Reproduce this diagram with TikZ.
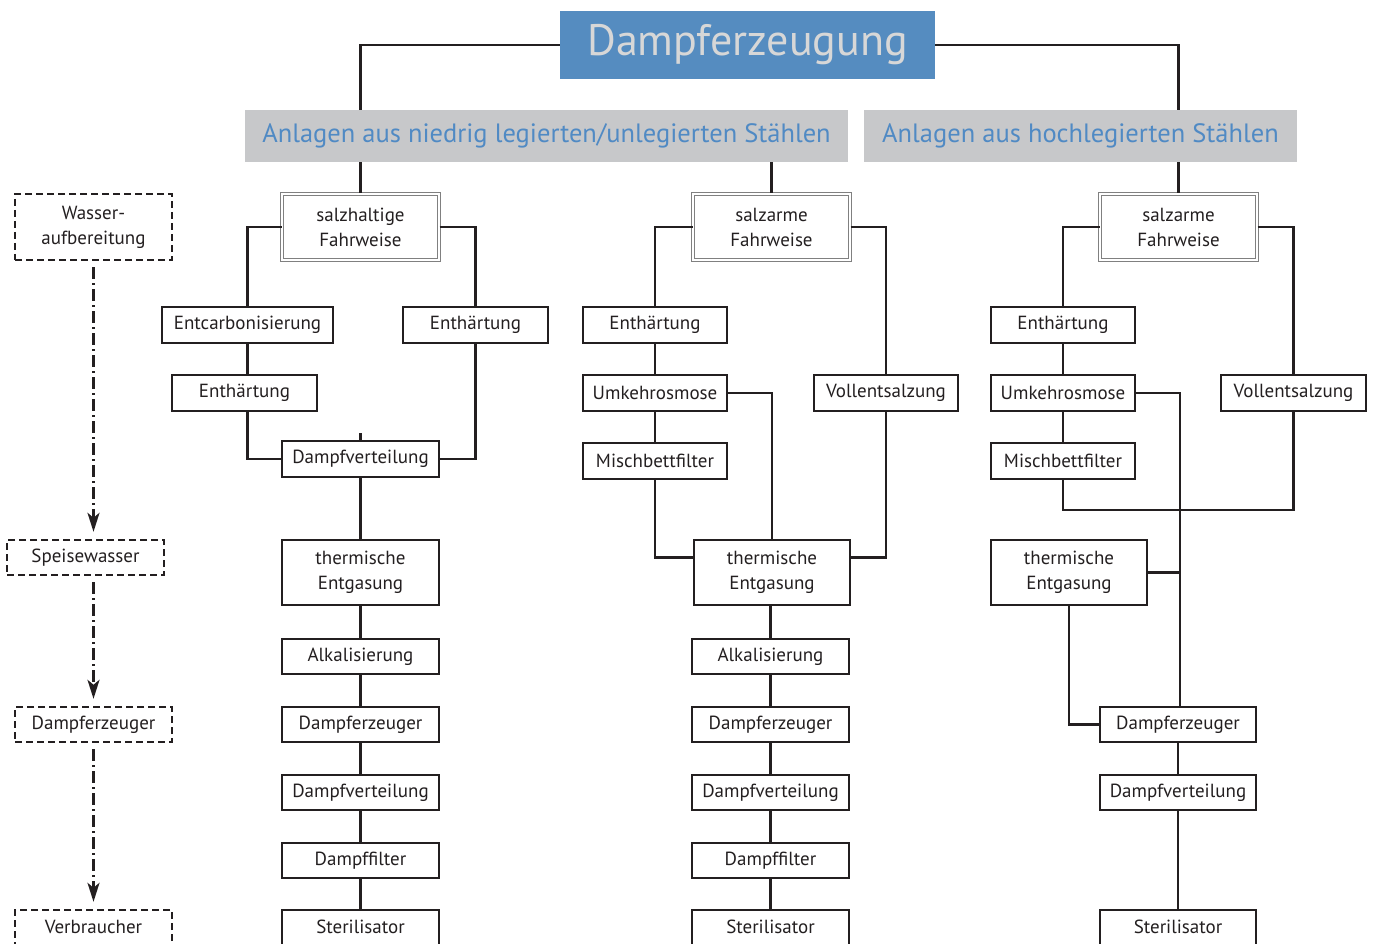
\documentclass[tikz,border=0pt]{standalone}
\usepackage{fontspec}
\setmainfont{PT Sans}
\usetikzlibrary{arrows.meta}
\definecolor{titleblue}{RGB}{85,140,192}
\definecolor{titletext}{RGB}{215,215,215}
\definecolor{hdrgray}{RGB}{199,200,202}
\definecolor{hdrtext}{RGB}{80,138,196}
\definecolor{ink}{RGB}{35,31,32}
\tikzset{
  bx/.style={draw=ink, text=ink, line width=2.6pt, minimum height=36pt, inner sep=0pt,
    align=center, font=\fontsize{19}{25}\selectfont},
  dbx/.style={bx, draw=gray, double=white, double distance=1.4pt, line width=1pt, minimum height=66pt},
  lbx/.style={bx, dash pattern=on 7pt off 4pt, line width=2.4pt},
  conn/.style={draw=ink, line width=2.5pt},
  dd/.style={draw=ink, line width=2.4pt, dash pattern=on 12pt off 4pt on 2pt off 4pt,
    -{Stealth[length=19pt,width=12pt,inset=5pt]}, shorten >=7pt, shorten <=6pt},
  hdr/.style={fill=hdrgray, text=hdrtext, minimum height=52pt, inner sep=0pt,
    font=\fontsize{26.5}{30}\selectfont},
  lbl/.style={text=ink, font=\fontsize{19}{25}\selectfont, anchor=base},
}
\begin{document}
\begin{tikzpicture}[x=1pt,y=-1pt]
\useasboundingbox (0,0) rectangle (1374,944);
\clip (0,0) rectangle (1374,944);
% title and headers
\node[fill=titleblue, text=titletext, minimum width=375pt, minimum height=68pt, inner sep=0pt,
  font=\fontsize{44}{48}\selectfont] (title) at (747.5,45) {Dampferzeugung};
\node[hdr, minimum width=603pt] (h1) at (546.5,136) {Anlagen aus niedrig legierten/unlegierten Stählen};
\node[hdr, minimum width=433pt] (h2) at (1080.5,136) {Anlagen aus hochlegierten Stählen};

% legend
\node[lbx, minimum width=157pt, minimum height=66pt] (wa) at (93.5,227) {Wasser-\\aufbereitung};
\node[lbx, minimum width=157pt, minimum height=35pt] (sp) at (85.5,557.5) {Speisewasser};
\node[lbx, minimum width=157pt, minimum height=35pt] (de) at (93.5,724.5) {Dampferzeuger};
\node[lbx, minimum width=157pt, minimum height=50pt] (vb) at (93.5,935) {};
\node[lbl] (vbt) at (93.5,933) {Verbraucher};
\draw[dd] (wa.south) -- (wa.south |- sp.north);
\draw[dd] (sp.south -| wa.south) -- (wa.south |- de.north);
\draw[dd] (de.south) -- (de.south |- vb.north);

% left column
\node[dbx, minimum width=157pt] (sh) at (360.5,227) {salzhaltige\\Fahrweise};
\node[bx, minimum width=171pt] (ec) at (247.5,325) {Entcarbonisierung};
\node[bx, minimum width=145pt] (ehr) at (475.5,325) {Enthärtung};
\node[bx, minimum width=145pt] (ehl) at (244.5,393) {Enthärtung};
\node[bx, minimum width=157pt] (dva) at (360.5,459) {Dampfverteilung};
\node[bx, minimum width=157pt, minimum height=65pt] (tea) at (360.5,572.5) {thermische\\Entgasung};
\node[bx, minimum width=157pt, minimum height=35pt] (ala) at (360.5,656.5) {Alkalisierung};
\node[bx, minimum width=157pt, minimum height=35pt] (dea) at (360.5,724.5) {Dampferzeuger};
\node[bx, minimum width=157pt, minimum height=35pt] (dvb) at (360.5,792.5) {Dampfverteilung};
\node[bx, minimum width=157pt, minimum height=35pt] (dfa) at (360.5,860.5) {Dampffilter};
\node[bx, minimum width=157pt, minimum height=50pt] (sta) at (360.5,935) {};
\node[lbl] (stat) at (360.5,933) {Sterilisator};

% middle column
\node[dbx, minimum width=157pt] (sm) at (771.5,227) {salzarme\\Fahrweise};
\node[bx, minimum width=144pt] (ehm) at (655,325) {Enthärtung};
\node[bx, minimum width=144pt] (umm) at (655,393) {Umkehrosmose};
\node[bx, minimum width=144pt] (mbm) at (655,461) {Mischbettfilter};
\node[bx, minimum width=144pt] (vsm) at (886,393) {Vollentsalzung};
\node[bx, minimum width=156pt, minimum height=65pt] (tem) at (772,572.5) {thermische\\Entgasung};
\node[bx, minimum width=157pt, minimum height=35pt] (alm) at (770.5,656.5) {Alkalisierung};
\node[bx, minimum width=157pt, minimum height=35pt] (dem) at (770.5,724.5) {Dampferzeuger};
\node[bx, minimum width=157pt, minimum height=35pt] (dvm) at (770.5,792.5) {Dampfverteilung};
\node[bx, minimum width=157pt, minimum height=35pt] (dfm) at (770.5,860.5) {Dampffilter};
\node[bx, minimum width=157pt, minimum height=50pt] (stm) at (770.5,935) {};
\node[lbl] (stmt) at (770.5,933) {Sterilisator};

% right column
\node[dbx, minimum width=157pt] (sr) at (1178.5,227) {salzarme\\Fahrweise};
\node[bx, minimum width=144pt] (ehr2) at (1063,325) {Enthärtung};
\node[bx, minimum width=144pt] (umr) at (1063,393) {Umkehrosmose};
\node[bx, minimum width=144pt] (mbr) at (1063,461) {Mischbettfilter};
\node[bx, minimum width=145pt] (vsr) at (1293.5,393) {Vollentsalzung};
\node[bx, minimum width=156pt, minimum height=65pt] (ter) at (1069,572.5) {thermische\\Entgasung};
\node[bx, minimum width=156pt, minimum height=35pt] (der) at (1178,724.5) {Dampferzeuger};
\node[bx, minimum width=156pt, minimum height=35pt] (dvr) at (1178,792.5) {Dampfverteilung};
\node[bx, minimum width=156pt, minimum height=50pt] (str) at (1178,935) {};
\node[lbl] (strt) at (1178,933) {Sterilisator};

% top connectors
\draw[conn] (title.west) -| (sh.north |- h1.north);
\draw[conn] (title.east) -| (sr.north |- h2.north);
\draw[conn] (h1.south -| sh.north) -- (sh.north);
\draw[conn] (h1.south -| sm.north) -- (sm.north);
\draw[conn] (h2.south -| sr.north) -- (sr.north);

% left column connectors
\draw[conn] (sh.west) -| (ec.north);
\draw[conn] (sh.east) -| (ehr.north);
\draw[conn] (ec.south) -- (ec.south |- ehl.north);
\draw[conn] (ehl.south -| ec.south) |- (dva.west);
\draw[conn] (ehr.south) |- (dva.east);
\draw[conn] (dva.north) -- ++(0,-7);
\draw[conn] (dva.south) -- (tea.north);
\draw[conn] (tea.south) -- (ala.north);
\draw[conn] (ala.south) -- (dea.north);
\draw[conn] (dea.south) -- (dvb.north);
\draw[conn] (dvb.south) -- (dfa.north);
\draw[conn] (dfa.south) -- (sta.north);

% middle column connectors
\draw[conn] (sm.west) -| (ehm.north);
\draw[conn] (sm.east) -| (vsm.north);
\draw[conn] (ehm.south) -- (umm.north);
\draw[conn] (umm.south) -- (mbm.north);
\draw[conn] (umm.east) -| (tem.north);
\draw[conn] (mbm.south) |- ([yshift=15pt]tem.west);
\draw[conn] (vsm.south) |- ([yshift=15pt]tem.east);
\draw[conn] (tem.south -| alm.north) -- (alm.north);
\draw[conn] (alm.south) -- (dem.north);
\draw[conn] (dem.south) -- (dvm.north);
\draw[conn] (dvm.south) -- (dfm.north);
\draw[conn] (dfm.south) -- (stm.north);

% right column connectors
\coordinate (mj) at (1063,510);
\coordinate (rj) at ([xshift=2pt]der.north);
\draw[conn] (sr.west) -| (ehr2.north);
\draw[conn] (sr.east) -| (vsr.north);
\draw[conn] (ehr2.south) -- (umr.north);
\draw[conn] (umr.south) -- (mbr.north);
\draw[conn] (mbr.south) -- (mj) -| (vsr.south);
\draw[conn] (umr.east) -| (rj);
\draw[conn] (ter.east) -- (ter.east -| rj);
\draw[conn] (ter.south) |- (der.west);
\draw[conn] (der.south) -- (dvr.north);
\draw[conn] (dvr.south) -- (str.north);
\end{tikzpicture}
\end{document}
